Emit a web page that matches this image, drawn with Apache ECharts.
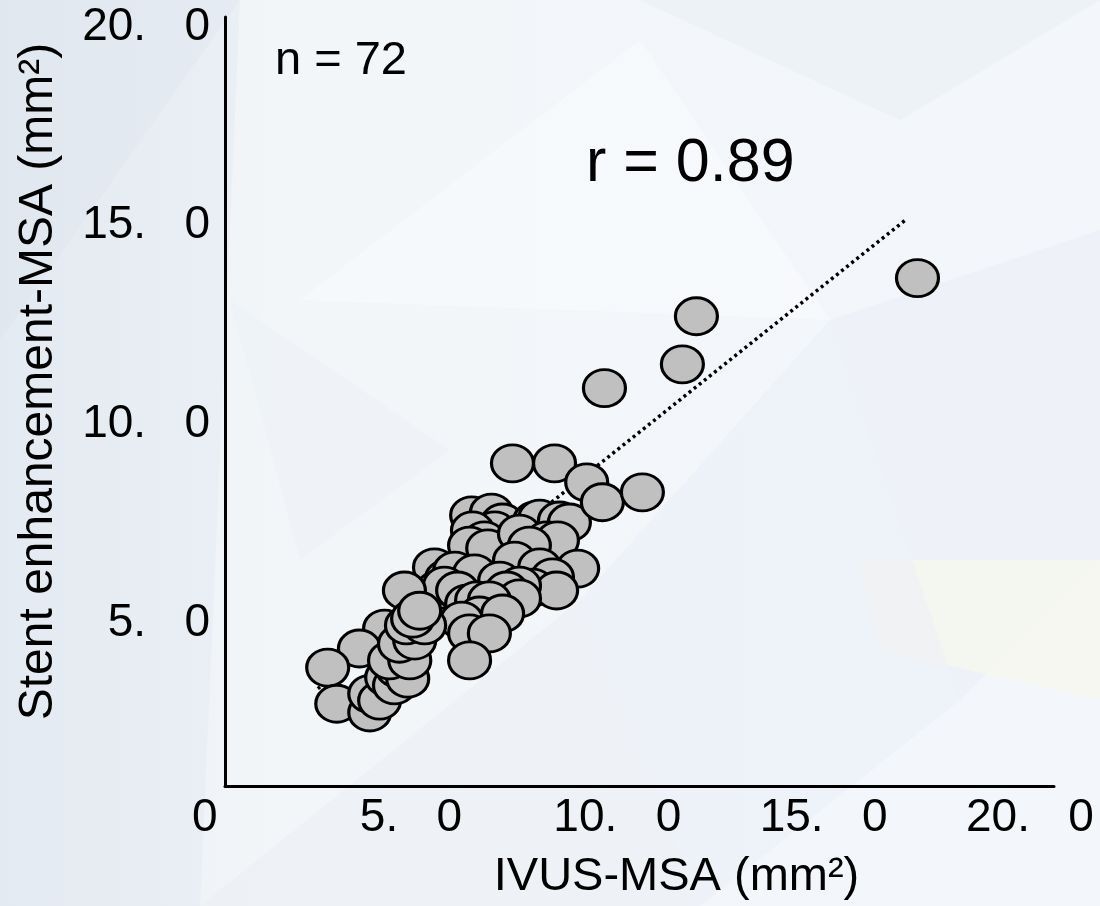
<!DOCTYPE html>
<html><head><meta charset="utf-8">
<script src="https://cdn.jsdelivr.net/npm/echarts@6/dist/echarts.min.js"></script>
<style>html,body{margin:0;padding:0;background:#f2f6f9}#c{width:1100px;height:906px}</style>
</head><body><div id="c"></div>
<script>
// ---- data ----
const xTickValues = [0, 5, 10, 15, 20];
const xTickLabels = ['0', '5.   0', '10.   0', '15.   0', '20.   0'];
const yTickValues = [5, 10, 15, 20];
const yTickLabels = ['5.   0', '10.   0', '15.   0', '20.   0'];
const xTitle = 'IVUS-MSA (mm²)';
const yTitle = 'Stent enhancement-MSA (mm²)';
const sampleText = 'n = 72';
const rText = 'r = 0.89';

const ivusMSA = [
  6.48, 6.96, 7.23, 7.04, 8.01, 8.13, 8.61, 8.85, 6.50, 6.79, 6.43, 6.87, 7.64, 8.30, 8.56, 7.88, 7.52, 8.13, 9.05, 8.44, 7.96, 8.54,
  5.58, 5.87, 6.07, 6.55, 7.16, 7.64, 7.33, 7.64, 5.95, 5.63, 5.82, 6.14, 6.36, 6.60, 6.91, 6.67, 7.23, 6.24, 6.43, 6.91, 6.43,
  4.85, 4.37, 3.76, 2.99, 3.21, 4.01, 4.01, 4.25, 4.42, 4.61, 4.68, 4.93, 4.49, 4.98, 4.73, 5.10, 4.90, 5.34, 5.05, 5.22,
  17.29, 11.93, 11.59, 9.70, 7.47, 8.49, 9.27, 9.65, 10.62
];
const stentMSA = [
  7.71, 7.78, 7.53, 7.33, 7.58, 7.63, 7.58, 7.53, 7.33, 7.08, 6.95, 6.88, 7.25, 7.08, 7.08, 6.95, 6.57, 6.40, 6.37, 6.15, 5.89, 5.82,
  6.40, 6.12, 6.32, 6.25, 6.07, 5.94, 5.82, 5.62, 5.57, 5.82, 5.94, 5.82, 5.49, 5.57, 5.57, 5.19, 5.24, 5.06, 4.74, 4.74, 4.06,
  5.82, 4.86, 4.36, 3.88, 2.97, 2.75, 3.22, 3.05, 3.63, 3.43, 3.85, 3.60, 4.06, 4.06, 4.48, 4.56, 4.94, 4.94, 5.11, 5.31,
  13.68, 12.72, 11.51, 10.91, 9.02, 9.02, 8.54, 8.04, 8.29
];
const fitLineX = [2.75, 17.02];
const fitLineY = [3.35, 15.16];

// ---- chart ----
const FONT = "'Liberation Sans', Arial, sans-serif";
const chart = echarts.init(document.getElementById('c'));
const pts = ivusMSA.map((x, i) => [x, stentMSA[i]]);
const fit = fitLineX.map((x, i) => [x, fitLineY[i]]);

const bgPolys = [
  {pts: [[0,0],[240,0],[0,340]], c: 'rgba(214,224,235,0.45)'},
  {pts: [[0,340],[240,0],[200,906],[0,906]], c: 'rgba(222,230,239,0.35)'},
  {pts: [[640,0],[1100,0],[900,120]], c: 'rgba(232,237,244,0.5)'},
  {pts: [[300,300],[830,320],[640,40]], c: 'rgba(255,255,255,0.35)'},
  {pts: [[830,320],[1100,230],[1100,560],[960,700]], c: 'rgba(237,239,248,0.6)'},
  {pts: [[860,560],[1100,560],[1100,700],[880,650]], c: 'rgba(246,248,236,0.7)'},
  {pts: [[830,320],[960,700],[700,906],[580,600]], c: 'rgba(234,238,247,0.5)'},
  {pts: [[200,906],[580,600],[700,906]], c: 'rgba(232,238,244,0.45)'},
  {pts: [[230,300],[450,450],[300,560]], c: 'rgba(236,241,246,0.4)'}
];

const option = {
  backgroundColor: {
    type: 'linear', x: 0, y: 0, x2: 1, y2: 0,
    colorStops: [{offset: 0, color: '#e8edf3'}, {offset: 0.25, color: '#f2f6f9'}, {offset: 1, color: '#f3f6fa'}]
  },
  animation: false,
  grid: [
    {left: 225, top: 17, width: 829, height: 769},
    {left: 204.7, top: 17, width: 825.2, height: 769}
  ],
  xAxis: [
    {
      type: 'value', gridIndex: 0, min: 0.5, max: 20.6,
      axisLine: {show: true, onZero: false, lineStyle: {color: '#000', width: 3}},
      axisTick: {show: false}, axisLabel: {show: false}, splitLine: {show: false},
      name: xTitle, nameLocation: 'middle', nameGap: 68,
      nameTextStyle: {fontFamily: FONT, fontSize: 47, color: '#000', padding: [0, 0, 0, 74]}
    },
    {
      type: 'value', gridIndex: 1, min: 0, max: 20, interval: 5,
      axisLine: {show: false}, axisTick: {show: false}, splitLine: {show: false},
      axisLabel: {
        show: true, margin: 9, fontFamily: FONT, fontSize: 46, color: '#000',
        formatter: v => xTickLabels[xTickValues.indexOf(v)]
      }
    }
  ],
  yAxis: [
    {
      type: 'value', gridIndex: 0, min: 0.9, max: 20.25,
      axisLine: {show: true, onZero: false, lineStyle: {color: '#000', width: 3}},
      axisTick: {show: false}, splitLine: {show: false},
      axisLabel: {
        show: true, customValues: yTickValues, margin: 15,
        fontFamily: FONT, fontSize: 46, color: '#000',
        formatter: v => yTickLabels[yTickValues.indexOf(v)]
      },
      name: yTitle, nameLocation: 'middle', nameGap: 162,
      nameTextStyle: {fontFamily: FONT, fontSize: 48, color: '#000', padding: [0, 0, 0, 40]}
    },
    {type: 'value', gridIndex: 1, min: 0, max: 20, show: false}
  ],
  graphic: bgPolys.map(p => ({
    type: 'polygon', silent: true, z: -100,
    shape: {points: p.pts}, style: {fill: p.c}
  })).concat([
    {type: 'text', x: 275, y: 61, z: 100,
     style: {text: sampleText, font: '47px ' + FONT, fill: '#000', align: 'left', verticalAlign: 'middle'}},
    {type: 'text', x: 586, y: 164, z: 100,
     style: {text: rText, font: '61px ' + FONT, fill: '#000', align: 'left', verticalAlign: 'middle'}}
  ]),
  series: [
    {
      type: 'line', xAxisIndex: 0, yAxisIndex: 0, data: fit, symbol: 'none', z: 1,
      lineStyle: {color: '#000', width: 3.5, type: [3, 3.5]}
    },
    {
      type: 'scatter', xAxisIndex: 0, yAxisIndex: 0, data: pts, z: 2,
      symbol: 'circle', symbolSize: [42, 37],
      itemStyle: {color: '#c0c0c0', borderColor: '#000', borderWidth: 3, opacity: 1}
    }
  ]
};
chart.setOption(option);
</script>
</body></html>
